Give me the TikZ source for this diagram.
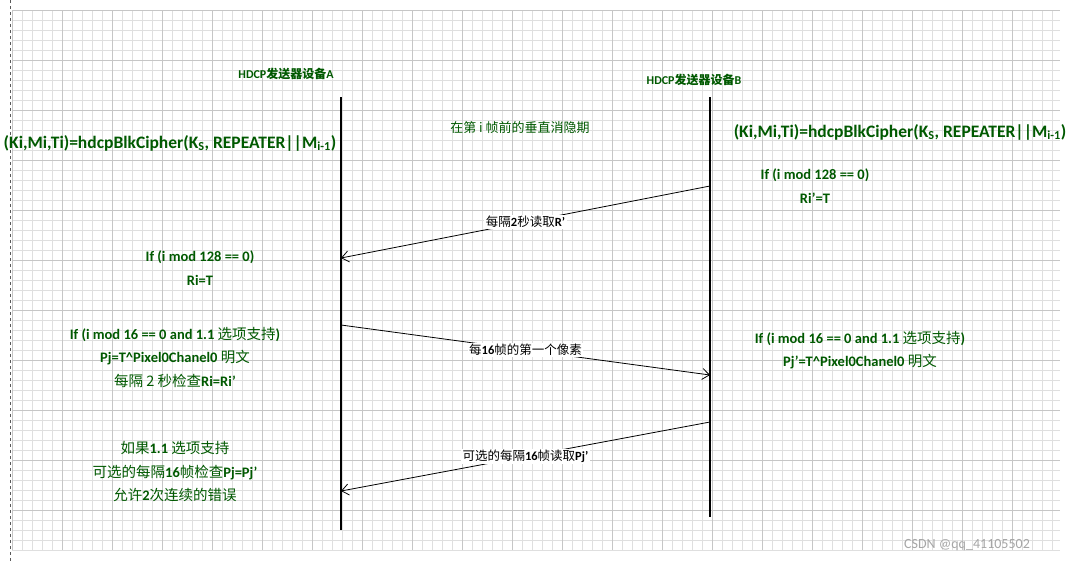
\documentclass[tikz,border=0pt]{standalone}
\usepackage{fontspec}
\usetikzlibrary{arrows.meta}
\setmainfont{Carlito}
\newfontfamily\cjk{Noto Sans CJK SC}
\begin{document}
\begin{tikzpicture}[x=1pt,y=-1pt,
  txt/.style={text=green!35!black, font=\fontsize{14.5}{23.5}\selectfont\bfseries, inner sep=1pt, align=center},
  small/.style={txt, font=\fontsize{12}{14}\selectfont\bfseries},
  lbl/.style={fill=white, font=\fontsize{12.5}{14}\selectfont, inner sep=1.5pt},
  life/.style={line width=1.6pt},
  msg/.style={-{Straight Barb[length=7pt,width=11pt]}, line width=0.8pt}]
\useasboundingbox (0,0) rectangle (1067,563);
\fill[white] (0,0) rectangle (1067,563);
\foreach \i in {0,...,104} {\draw[gray!25, line width=0.4pt] (12+10*\i,10) -- (12+10*\i,550);}
\foreach \j in {0,...,54} {\draw[gray!25, line width=0.4pt] (12,10+10*\j) -- (1060,10+10*\j);}
\foreach \i in {0,...,20} {\draw[gray!45, line width=0.6pt] (12+50*\i,10) -- (12+50*\i,550);}
\foreach \j in {0,...,10} {\draw[gray!45, line width=0.6pt] (12,10+50*\j) -- (1060,10+50*\j);}
\draw[dashed, gray!70!black] (10,0) -- (10,563);
% lifelines
\coordinate (a1) at (341,97); \coordinate (a2) at (341,530);
\coordinate (b1) at (710,97); \coordinate (b2) at (710,517);
\draw[life] (a1) -- (a2);
\draw[life] (b1) -- (b2);
\node[small] (ta) at (286,74) {HDCP{\cjk 发送器设备}A};
\node[small] (tb) at (694,80) {HDCP{\cjk 发送器设备}B};
\node[txt, font=\fontsize{13}{15}\selectfont\cjk] (vb) at (520,128) {在第 i 帧前的垂直消隐期};
\node[txt, font=\fontsize{17.5}{19}\selectfont\bfseries] (fa) at (170,143) {(Ki,Mi,Ti)=hdcpBlkCipher(K\textsubscript{S}, REPEATER||M\textsubscript{i-1})};
\node[txt, font=\fontsize{17.5}{19}\selectfont\bfseries] (fb) at (900,132) {(Ki,Mi,Ti)=hdcpBlkCipher(K\textsubscript{S}, REPEATER||M\textsubscript{i-1})};
\node[txt] (rb) at (815,186) {If (i mod 128 == 0)\\Ri’=T};
\node[txt] (ra) at (200,268) {If (i mod 128 == 0)\\Ri=T};
\node[txt] (pa) at (175,357) {If (i mod 16 == 0 and 1.1 {\cjk\mdseries 选项支持})\\Pj=T\^{}Pixel0Chanel0 {\cjk\mdseries 明文}\\{\cjk\mdseries 每隔 2 秒检查}Ri=Ri’};
\node[txt] (pb) at (860,350) {If (i mod 16 == 0 and 1.1 {\cjk\mdseries 选项支持})\\Pj’=T\^{}Pixel0Chanel0 {\cjk\mdseries 明文}};
\node[txt] (ea) at (175,472) {{\cjk\mdseries 如果}1.1 {\cjk\mdseries 选项支持}\\{\cjk\mdseries 可选的每隔}16{\cjk\mdseries 帧检查}Pj=Pj’\\{\cjk\mdseries 允许}2{\cjk\mdseries 次连续的错误}};
% messages
\coordinate (m1s) at (710,186); \coordinate (m1e) at (341,258);
\coordinate (m2s) at (341,325); \coordinate (m2e) at (710,375);
\coordinate (m3s) at (710,422); \coordinate (m3e) at (341,491);
\draw[msg] (m1s) -- node[lbl]{{\cjk 每隔}\textbf{2}{\cjk 秒读取}\textbf{R’}} (m1e);
\draw[msg] (m2s) -- node[lbl]{{\cjk 每}\textbf{16}{\cjk 帧的第一个像素}} (m2e);
\draw[msg] (m3s) -- node[lbl]{{\cjk 可选的每隔}\textbf{16}{\cjk 帧读取}\textbf{Pj’}} (m3e);
\node[text=gray!70, font=\fontsize{14}{16}\selectfont] (wm) at (967,545) {CSDN @qq\_41105502};
\end{tikzpicture}
\end{document}
